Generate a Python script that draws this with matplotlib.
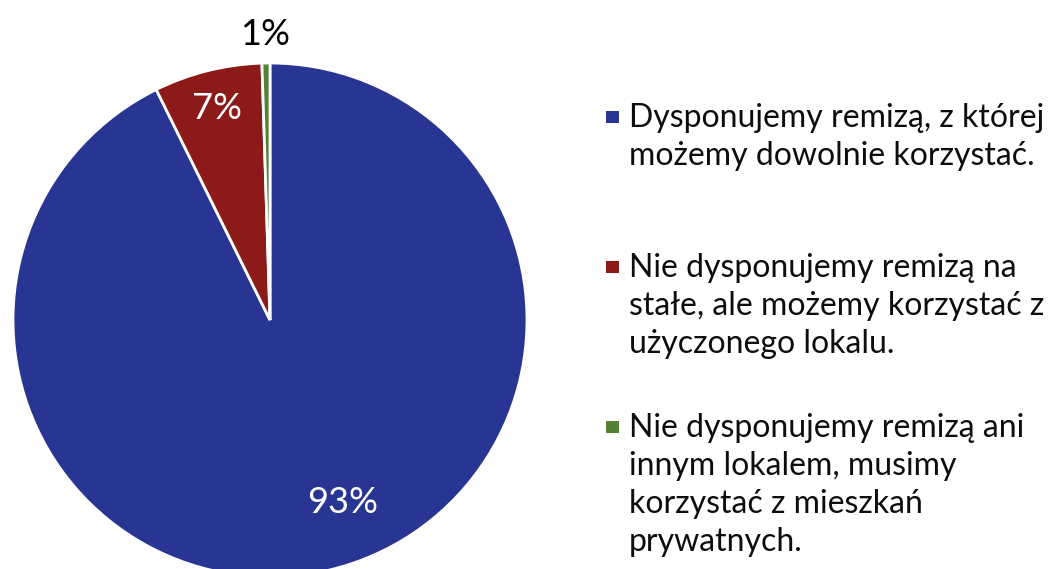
import numpy as np
import matplotlib
matplotlib.use("Agg")
import matplotlib.pyplot as plt
from matplotlib.patches import Rectangle

# Dane
kategorie = [
    ["Dysponujemy remizą, z której", "możemy dowolnie korzystać."],
    ["Nie dysponujemy remizą na", "stałe, ale możemy korzystać z", "użyczonego lokalu."],
    ["Nie dysponujemy remizą ani", "innym lokalem, musimy", "korzystać z mieszkań", "prywatnych."],
]
wartosci = [92.7, 6.8, 0.5]
etykiety = ["93%", "7%", "1%"]
kolory = ["#283593", "#8B1A18", "#548235"]

plt.rcParams['font.family'] = ['Lato', 'DejaVu Sans']

W, H = 1048, 569
fig = plt.figure(figsize=(W / 100, H / 100), dpi=100)

# kolo: srodek (270, 320) px, promien 257 px
cx, cy, r = 270, 320, 257
ax = fig.add_axes([(cx - r) / W, (H - cy - r) / H, 2 * r / W, 2 * r / H])
wedges, _ = ax.pie(wartosci, colors=kolory, startangle=90, counterclock=False,
                   radius=1, wedgeprops=dict(edgecolor="white", linewidth=2))
ax.set_xlim(-1, 1)
ax.set_ylim(-1, 1)
ax.axis("off")

# etykiety procentowe (odleglosc od srodka, przesuniecie kata)
uklad = [(0.765, 8.4, "white"), (0.85, 0, "white"), (1.11, 0, "black")]
for w, txt, (d, shift, c) in zip(wedges, etykiety, uklad):
    ang = np.deg2rad((w.theta1 + w.theta2) / 2 + shift)
    ax.text(d * np.cos(ang), d * np.sin(ang), txt, ha="center", va="center",
            fontsize=26, color=c, clip_on=False)

# legenda
bazy = [127, 277, 437]
krok = 38
for linie, kol, b in zip(kategorie, kolory, bazy):
    fig.patches.append(Rectangle(((606) / W, (H - b + 4) / H), 13 / W, 12 / H,
                                 transform=fig.transFigure, facecolor=kol,
                                 edgecolor="none"))
    for k, linia in enumerate(linie):
        fig.text(629 / W, (H - b - k * krok) / H, linia, ha="left", va="baseline",
                 fontsize=23, color="#0D0D0D")

fig.savefig("out.png", dpi=100)
